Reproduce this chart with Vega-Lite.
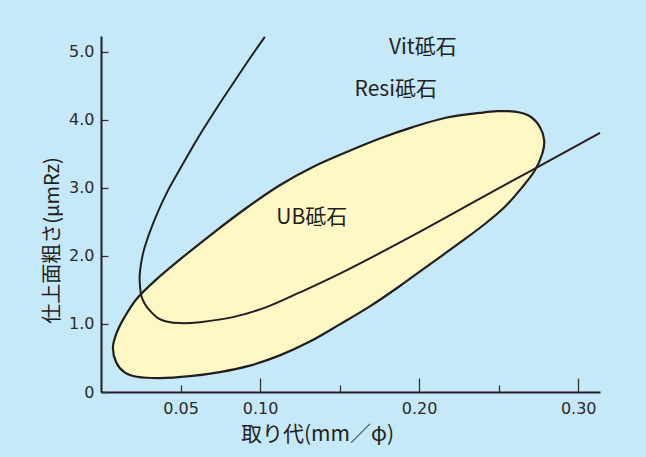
{
  "$schema": "https://vega.github.io/schema/vega-lite/v6.json",
  "width": 499,
  "height": 356,
  "autosize": {"type": "none"},
  "padding": {"left": 101, "top": 36, "right": 46, "bottom": 65},
  "background": "#c6e9f9",
  "config": {"view": {"stroke": null}},
  "datasets": {
    "ub": [
      {"i": 1, "x": 0.0075, "y": 0.654},
      {"i": 2, "x": 0.0096, "y": 0.434},
      {"i": 3, "x": 0.0149, "y": 0.287},
      {"i": 4, "x": 0.0225, "y": 0.224},
      {"i": 5, "x": 0.0369, "y": 0.203},
      {"i": 6, "x": 0.0558, "y": 0.232},
      {"i": 7, "x": 0.0747, "y": 0.292},
      {"i": 8, "x": 0.0935, "y": 0.387},
      {"i": 9, "x": 0.1124, "y": 0.538},
      {"i": 10, "x": 0.1313, "y": 0.741},
      {"i": 11, "x": 0.1501, "y": 0.993},
      {"i": 12, "x": 0.1690, "y": 1.257},
      {"i": 13, "x": 0.1879, "y": 1.557},
      {"i": 14, "x": 0.2067, "y": 1.875},
      {"i": 15, "x": 0.2256, "y": 2.193},
      {"i": 16, "x": 0.2413, "y": 2.468},
      {"i": 17, "x": 0.2539, "y": 2.721},
      {"i": 18, "x": 0.2646, "y": 3.003},
      {"i": 19, "x": 0.2728, "y": 3.257},
      {"i": 20, "x": 0.2775, "y": 3.507},
      {"i": 21, "x": 0.2786, "y": 3.699},
      {"i": 22, "x": 0.2759, "y": 3.894},
      {"i": 23, "x": 0.2696, "y": 4.051},
      {"i": 24, "x": 0.2602, "y": 4.118},
      {"i": 25, "x": 0.2489, "y": 4.125},
      {"i": 26, "x": 0.2382, "y": 4.100},
      {"i": 27, "x": 0.2174, "y": 4.032},
      {"i": 28, "x": 0.1960, "y": 3.891},
      {"i": 29, "x": 0.1753, "y": 3.724},
      {"i": 30, "x": 0.1545, "y": 3.526},
      {"i": 31, "x": 0.1332, "y": 3.306},
      {"i": 32, "x": 0.1124, "y": 3.037},
      {"i": 33, "x": 0.0916, "y": 2.707},
      {"i": 34, "x": 0.0703, "y": 2.332},
      {"i": 35, "x": 0.0495, "y": 1.944},
      {"i": 36, "x": 0.0338, "y": 1.632},
      {"i": 37, "x": 0.0225, "y": 1.369},
      {"i": 38, "x": 0.0149, "y": 1.103},
      {"i": 39, "x": 0.0099, "y": 0.872}
    ],
    "resi": [
      {"i": 1, "x": 0.1030, "y": 5.218},
      {"i": 2, "x": 0.0935, "y": 4.900},
      {"i": 3, "x": 0.0830, "y": 4.532},
      {"i": 4, "x": 0.0726, "y": 4.165},
      {"i": 5, "x": 0.0613, "y": 3.747},
      {"i": 6, "x": 0.0516, "y": 3.356},
      {"i": 7, "x": 0.0411, "y": 2.915},
      {"i": 8, "x": 0.0327, "y": 2.474},
      {"i": 9, "x": 0.0275, "y": 2.129},
      {"i": 10, "x": 0.0253, "y": 1.904},
      {"i": 11, "x": 0.0243, "y": 1.713},
      {"i": 12, "x": 0.0245, "y": 1.566},
      {"i": 13, "x": 0.0253, "y": 1.419},
      {"i": 14, "x": 0.0275, "y": 1.297},
      {"i": 15, "x": 0.0306, "y": 1.199},
      {"i": 16, "x": 0.0358, "y": 1.085},
      {"i": 17, "x": 0.0411, "y": 1.037},
      {"i": 18, "x": 0.0495, "y": 1.012},
      {"i": 19, "x": 0.0621, "y": 1.026},
      {"i": 20, "x": 0.0830, "y": 1.100},
      {"i": 21, "x": 0.1040, "y": 1.247},
      {"i": 22, "x": 0.1250, "y": 1.463},
      {"i": 23, "x": 0.1543, "y": 1.787},
      {"i": 24, "x": 0.1962, "y": 2.301},
      {"i": 25, "x": 0.2382, "y": 2.841},
      {"i": 26, "x": 0.2696, "y": 3.243},
      {"i": 27, "x": 0.3137, "y": 3.806}
    ],
    "labels": [
      {"x": 0.2023, "y": 5.051, "label": "Vit砥石"},
      {"x": 0.1853, "y": 4.434, "label": "Resi砥石"},
      {"x": 0.1325, "y": 2.551, "label": "UB砥石"}
    ]
  },
  "encoding": {
    "x": {
      "field": "x",
      "type": "quantitative",
      "scale": {"domain": [0, 0.3137], "nice": false, "zero": false},
      "axis": {
        "title": "取り代(mm／φ)",
        "values": [0.05, 0.1, 0.15, 0.2, 0.25, 0.3],
        "labelExpr": "indexof([0.15, 0.25], datum.value) >= 0 ? '' : format(datum.value, '.2f')",
        "labelFlush": false,
        "labelOverlap": false,
        "grid": false,
        "domainColor": "#231f20",
        "domainWidth": 2,
        "tickColor": "#333333",
        "tickWidth": 1.3,
        "tickSize": {"condition": {"test": "indexof([0.05, 0.15, 0.25], datum.value) >= 0", "value": -7}, "value": -14},
        "labelPadding": {"condition": {"test": "indexof([0.05, 0.15, 0.25], datum.value) >= 0", "value": 15}, "value": 22},
        "labelFont": "DejaVu Sans",
        "labelFontSize": 16,
        "labelColor": "#2a2a2a",
        "titleFont": "Noto Sans CJK JP",
        "titleFontSize": 21,
        "titleFontWeight": "normal",
        "titleColor": "#231f20",
        "titlePadding": 7,
        "titleX": 216
      }
    },
    "y": {
      "field": "y",
      "type": "quantitative",
      "scale": {"domain": [0, 5.23], "nice": false},
      "axis": {
        "title": "仕上面粗さ(μmRz)",
        "values": [0, 1, 2, 3, 4, 5],
        "labelExpr": "datum.value == 0 ? '0' : format(datum.value, '.1f')",
        "labelFlush": false,
        "labelOverlap": false,
        "grid": false,
        "domainColor": "#231f20",
        "domainWidth": 2,
        "tickColor": "#333333",
        "tickWidth": 1.3,
        "tickSize": -7,
        "labelPadding": 14,
        "labelFont": "DejaVu Sans",
        "labelFontSize": 16,
        "labelColor": "#2a2a2a",
        "titleFont": "Noto Sans CJK JP",
        "titleFontSize": 20,
        "titleFontWeight": "normal",
        "titleColor": "#231f20",
        "titlePadding": 6,
        "titleY": 204
      }
    },
    "order": {"field": "i", "type": "quantitative"}
  },
  "layer": [
    {
      "data": {"name": "ub"},
      "mark": {"type": "line", "interpolate": "cardinal-closed", "fill": "#fff8c4", "stroke": "#231f20", "strokeWidth": 2.2}
    },
    {
      "data": {"name": "resi"},
      "mark": {"type": "line", "interpolate": "cardinal", "stroke": "#231f20", "strokeWidth": 2}
    },
    {
      "data": {"name": "labels"},
      "mark": {"type": "text", "font": "Noto Sans CJK JP", "fontSize": 21, "color": "#231f20", "align": "center", "baseline": "middle"},
      "encoding": {"text": {"field": "label"}, "order": {"value": null}}
    }
  ]
}
